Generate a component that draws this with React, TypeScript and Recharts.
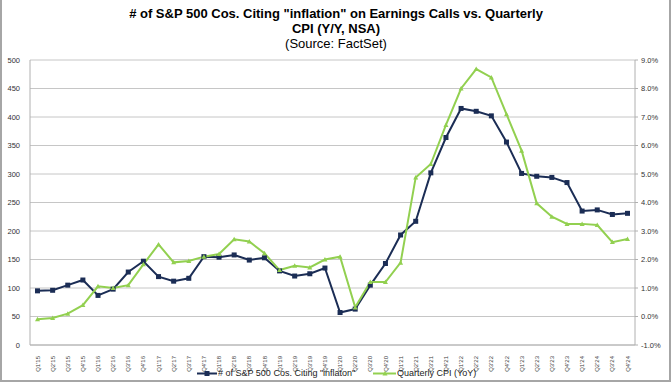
import { CartesianGrid, Legend, Line, LineChart, XAxis, YAxis } from "recharts";

const quarters = [
  "Q1'15", "Q2'15", "Q3'15", "Q4'15", "Q1'16", "Q2'16", "Q3'16", "Q4'16",
  "Q1'17", "Q2'17", "Q3'17", "Q4'17", "Q1'18", "Q2'18", "Q3'18", "Q4'18",
  "Q1'19", "Q2'19", "Q3'19", "Q4'19", "Q1'20", "Q2'20", "Q3'20", "Q4'20",
  "Q1'21", "Q2'21", "Q3'21", "Q4'21", "Q1'22", "Q2'22", "Q3'22", "Q4'22",
  "Q1'23", "Q2'23", "Q3'23", "Q4'23", "Q1'24", "Q2'24", "Q3'24", "Q4'24",
];

// # of S&P 500 companies citing "inflation" (left axis)
const citingInflation = [
  95, 96, 105, 114, 87, 98, 128, 147, 120, 112,
  117, 155, 154, 158, 149, 153, 130, 121, 125, 135,
  57, 63, 105, 143, 193, 217, 302, 364, 415, 410,
  402, 356, 301, 296, 294, 285, 235, 237, 229, 231,
];

// Quarterly CPI Y/Y in % (right axis)
const cpiYoY = [
  -0.1, -0.05, 0.1, 0.4, 1.06, 1.0, 1.1, 1.83, 2.53, 1.9,
  1.95, 2.1, 2.19, 2.71, 2.63, 2.22, 1.63, 1.78, 1.72, 2.0,
  2.1, 0.32, 1.21, 1.21, 1.89, 4.88, 5.35, 6.72, 8.0, 8.68,
  8.39, 7.1, 5.82, 3.97, 3.5, 3.25, 3.25, 3.21, 2.61, 2.72,
];

const leftTicks = [0, 50, 100, 150, 200, 250, 300, 350, 400, 450, 500];
const rightTicks = [-1, 0, 1, 2, 3, 4, 5, 6, 7, 8, 9];

const navy = "#1b2d55";
const green = "#92d050";
const font = "'Liberation Sans', Arial, sans-serif";

const data = quarters.map((quarter, i) => ({
  quarter,
  count: citingInflation[i],
  cpi: cpiYoY[i],
}));

function SquareDot(props: any) {
  const { cx, cy, index } = props;
  if (cx == null || cy == null) return null;
  return <rect key={`sq-${index}`} x={cx - 2.5} y={cy - 2.5} width={5} height={5} fill={navy} />;
}

function TriangleDot(props: any) {
  const { cx, cy, index } = props;
  if (cx == null || cy == null) return null;
  return (
    <path
      key={`tri-${index}`}
      d={`M${cx},${cy - 2.5} L${cx + 2.5},${cy + 2} L${cx - 2.5},${cy + 2} Z`}
      fill={green}
    />
  );
}

function QuarterTick(props: any) {
  const { x, y, payload } = props;
  const ty = y + 3;
  return (
    <text
      x={x}
      y={ty}
      transform={`rotate(-90, ${x}, ${ty})`}
      textAnchor="end"
      dy="0.35em"
      fontSize={6}
      fill="#404040"
      fontFamily={font}
    >
      {payload.value}
    </text>
  );
}

function ChartLegend() {
  const text = { position: "absolute" as const, top: 2, fontSize: 9, lineHeight: "11px", color: "#222", fontFamily: font, whiteSpace: "nowrap" as const };
  return (
    <div style={{ position: "relative", width: 672, height: 18 }}>
      <svg width={672} height={18} style={{ position: "absolute", left: 0, top: 0 }}>
        <line x1={197} x2={217} y1={7.5} y2={7.5} stroke={navy} strokeWidth={2} />
        <rect x={204.5} y={5} width={5} height={5} fill={navy} />
        <line x1={373} x2={396} y1={7.5} y2={7.5} stroke={green} strokeWidth={2} />
        <path d="M385,5 L387.5,9.5 L382.5,9.5 Z" fill={green} />
      </svg>
      <span style={{ ...text, left: 218 }}># of S&amp;P 500 Cos. Citing "inflaton"</span>
      <span style={{ ...text, left: 397 }}>Quarterly CPI (YoY)</span>
    </div>
  );
}

export default function App() {
  return (
    <div
      style={{
        position: "absolute",
        left: 0,
        top: 0,
        width: 672,
        height: 384,
        background: "#fff",
        fontFamily: font,
      }}
    >
      <div
        style={{
          position: "absolute",
          left: 0,
          top: 0,
          width: 667,
          height: 380,
          borderLeft: "2px solid #a6a6a6",
          borderRight: "2px solid #a6a6a6",
          borderBottom: "2px solid #a6a6a6",
          pointerEvents: "none",
        }}
      />
      <div style={{ position: "absolute", left: 0, top: 6, width: 672, textAlign: "center", color: "#000" }}>
        <div style={{ fontSize: 13, fontWeight: "bold", lineHeight: "15px" }}>
          # of S&amp;P 500 Cos. Citing "inflation" on Earnings Calls vs. Quarterly
        </div>
        <div style={{ fontSize: 13, fontWeight: "bold", lineHeight: "15px" }}>CPI (Y/Y, NSA)</div>
        <div style={{ fontSize: 13, lineHeight: "15px" }}>(Source: FactSet)</div>
      </div>
      <LineChart width={672} height={384} data={data} margin={{ top: 60, right: 0, bottom: 0, left: 0 }}>
        <CartesianGrid yAxisId="left" vertical={false} stroke="#c6c6c6" strokeWidth={1} />
        <XAxis
          dataKey="quarter"
          interval={0}
          height={21}
          padding={{ left: 7.5, right: 7.5 }}
          tick={<QuarterTick />}
          tickLine={false}
          axisLine={{ stroke: "#b0b0b0" }}
        />
        <YAxis
          yAxisId="left"
          domain={[0, 500]}
          ticks={leftTicks}
          width={30}
          tickLine={false}
          tickMargin={4}
          axisLine={{ stroke: "#b0b0b0" }}
          tick={{ fontSize: 7.5, fill: "#333", fontFamily: font }}
        />
        <YAxis
          yAxisId="right"
          orientation="right"
          domain={[-1, 9]}
          ticks={rightTicks}
          width={37}
          tickSize={3}
          tickMargin={3}
          tickLine={{ stroke: "#b0b0b0" }}
          axisLine={{ stroke: "#b0b0b0" }}
          tickFormatter={(v) => `${Number(v).toFixed(1)}%`}
          tick={{ fontSize: 7.5, fill: "#333", fontFamily: font }}
        />
        <Legend verticalAlign="bottom" wrapperStyle={{ left: 0, bottom: 0, width: 672 }} content={<ChartLegend />} />
        <Line
          yAxisId="left"
          dataKey="count"
          stroke={navy}
          strokeWidth={2}
          dot={<SquareDot />}
          activeDot={false}
          isAnimationActive={false}
        />
        <Line
          yAxisId="right"
          dataKey="cpi"
          stroke={green}
          strokeWidth={2}
          dot={<TriangleDot />}
          activeDot={false}
          isAnimationActive={false}
        />
      </LineChart>
    </div>
  );
}
